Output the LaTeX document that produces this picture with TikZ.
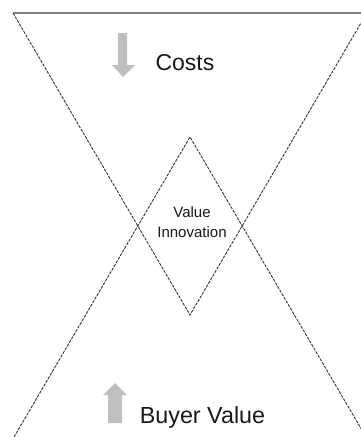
\documentclass[tikz,border=0pt]{standalone}
\usepackage{fontspec}
\setmainfont{Liberation Sans}
\begin{document}
\begin{tikzpicture}[x=1pt,y=-1pt,
  dashline/.style={draw=black!80, line width=0.9pt, dash pattern=on 3pt off 1.2pt},
  blockarrow/.style={fill=black!25, draw=none},
  lbl/.style={text=black!90, inner sep=0pt},
]
\useasboundingbox (0,0) rectangle (361,437);
\fill[white] (0,0) rectangle (361,437);
\begin{scope}
\clip (0,0) rectangle (361,437);
% top edge
\draw[black!50, line width=2pt] (13,13) -- (361,13);
% downward triangle
\draw[dashline] (13,13) -- (190,315) -- (368,11);
% upward triangle
\draw[dashline] (14,437) -- (190,137) -- (366,437);
\end{scope}
% arrows
\fill[blockarrow] (118,33) -- (127,33) -- (127,65) -- (135,65) -- (123,77) -- (112,65) -- (118,65) -- cycle;
\fill[blockarrow] (108,423) -- (122,423) -- (122,395) -- (127,395) -- (115,383) -- (103,395) -- (108,395) -- cycle;
% labels
\node[lbl, font=\fontsize{23}{26}\selectfont] (costs) at (185,63) {Costs};
\node[lbl, font=\fontsize{23.3}{26}\selectfont] (buyer) at (202.5,417) {Buyer Value};
\node[lbl, font=\fontsize{15}{20}\selectfont, align=center] (vi) at (192,222) {Value\\Innovation};
\end{tikzpicture}
\end{document}
